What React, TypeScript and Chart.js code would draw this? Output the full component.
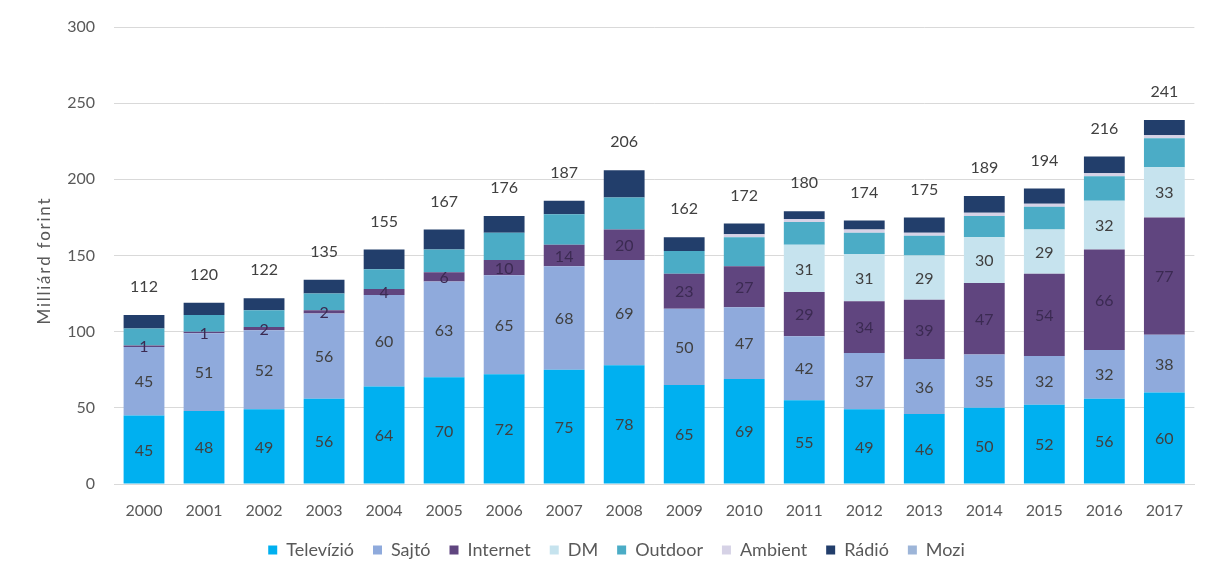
import React, { useEffect, useRef } from "react";
import { Chart, registerables } from "chart.js";

Chart.register(...registerables);

const years = ["2000","2001","2002","2003","2004","2005","2006","2007","2008","2009","2010","2011","2012","2013","2014","2015","2016","2017"];
const televizio = [45,48,49,56,64,70,72,75,78,65,69,55,49,46,50,52,56,60];
const sajto = [45,51,52,56,60,63,65,68,69,50,47,42,37,36,35,32,32,38];
const internet = [1,1,2,2,4,6,10,14,20,23,27,29,34,39,47,54,66,77];
const dm = [0,0,0,0,0,0,0,0,0,0,0,31,31,29,30,29,32,33];
const outdoor = [11,11,11,11,13,15,18,20,21,15,19,15,14,13,14,15,16,19];
const ambient = [0,0,0,0,0,0,0,0,0,0,2,2,2,2,2,2,2,2];
const radio = [9,8,8,9,13,13,11,9,18,9,7,5,6,10,11,10,11,10];
const mozi = [0,0,0,0,0,0,0,0,0,0,0,0,0,0,0,0,0,0];
const totals = ["112","120","122","135","155","167","176","187","206","162","172","180","174","175","189","194","216","241"];
const yTicks = [0, 50, 100, 150, 200, 250, 300];
const yTitle = "Milliárd forint";

const FONT = "Lato, 'Open Sans', sans-serif";
const labeledSets = [0, 1, 2, 3];

const labelPlugin = {
  id: "segLabels",
  afterLayout(chart: any) {
    const lg = chart.legend;
    if (lg) { lg.left += 14; lg.right += 14; }
  },
  afterDatasetsDraw(chart: any) {
    const ctx = chart.ctx;
    ctx.save();
    ctx.font = `16px ${FONT}`;
    ctx.textAlign = "center";
    ctx.textBaseline = "middle";
    labeledSets.forEach((di) => {
      const meta = chart.getDatasetMeta(di);
      const data = chart.data.datasets[di].data as number[];
      meta.data.forEach((bar: any, j: number) => {
        const v = data[j];
        if (!v) return;
        const p = bar.getProps(["x", "y", "base"], true);
        ctx.fillStyle = di === 2 ? "#3b2a52" : "#404040";
        ctx.fillText(String(v), p.x, (p.y + p.base) / 2 + 1);
      });
    });
    const yScale = chart.scales.y;
    const meta0 = chart.getDatasetMeta(0);
    meta0.data.forEach((bar: any, j: number) => {
      let sum = 0;
      chart.data.datasets.forEach((ds: any) => { sum += ds.data[j] || 0; });
      const top = yScale.getPixelForValue(sum);
      ctx.fillStyle = "#404040";
      ctx.fillText(totals[j], bar.x, top - 28);
    });
    // y axis title, letter-spaced
    const area = chart.chartArea;
    ctx.save();
    ctx.translate(37, (area.top + area.bottom) / 2 + 6);
    ctx.rotate(-Math.PI / 2);
    ctx.font = `17px ${FONT}`;
    ctx.fillStyle = "#595959";
    ctx.textAlign = "left";
    const chars = Array.from(yTitle);
    const widths = chars.map((c) => ctx.measureText(c).width);
    const base = widths.reduce((a, b) => a + b, 0);
    const targetLen = 126;
    const sp = Math.max(0, (targetLen - base) / (chars.length - 1));
    let x = -(base + sp * (chars.length - 1)) / 2;
    chars.forEach((c, i) => { ctx.fillText(c, x, 0); x += widths[i] + sp; });
    ctx.restore();
    ctx.restore();
  },
};

export default function App() {
  const ref = useRef<HTMLCanvasElement | null>(null);
  useEffect(() => {
    if (!ref.current) return;
    const mk = (label: string, data: number[], color: string) => ({
      label, data, backgroundColor: color, borderWidth: 0,
      barPercentage: 0.68, categoryPercentage: 1.0,
    });
    const chart = new Chart(ref.current, {
      type: "bar",
      data: {
        labels: years,
        datasets: [
          mk("Televízió", televizio, "#00B0F0"),
          mk("Sajtó", sajto, "#8FAADC"),
          mk("Internet", internet, "#60457F"),
          mk("DM", dm, "#C6E3EE"),
          mk("Outdoor", outdoor, "#4BACC6"),
          mk("Ambient", ambient, "#D6D2E6"),
          mk("Rádió", radio, "#223E6B"),
          mk("Mozi", mozi, "#9DB5D8"),
        ],
      },
      options: {
        responsive: false,
        animation: false,
        layout: { padding: { left: 0, right: 3, top: 19, bottom: 4 } },
        plugins: {
          legend: {
            position: "bottom",
            labels: {
              boxWidth: 9, boxHeight: 9, padding: 19,
              color: "#595959", font: { family: FONT, size: 18 },
            },
          },
          tooltip: { enabled: false },
        },
        scales: {
          x: {
            stacked: true,
            grid: { display: false, drawTicks: false },
            border: { display: true, color: "#D9D9D9" },
            ticks: { color: "#595959", font: { family: FONT, size: 16 }, padding: 17, maxRotation: 0 },
            afterFit: (s: any) => { s.height = 38; },
          },
          y: {
            stacked: true,
            min: 0, max: 300,
            afterBuildTicks: (s: any) => { s.ticks = yTicks.map((v) => ({ value: v })); },
            grid: { color: "#D9D9D9", drawTicks: false },
            border: { display: false },
            ticks: { color: "#595959", font: { family: FONT, size: 16 }, padding: 19 },
            title: { display: false },
            afterFit: (s: any) => { s.width = 106; s.paddingTop = 0; s.paddingBottom = 0; },
          },
        },
      },
      plugins: [labelPlugin],
    });
    return () => chart.destroy();
  }, []);
  return (
    <div style={{ width: 1192, height: 565 }}>
      <canvas ref={ref} width={1192} height={565} />
    </div>
  );
}
